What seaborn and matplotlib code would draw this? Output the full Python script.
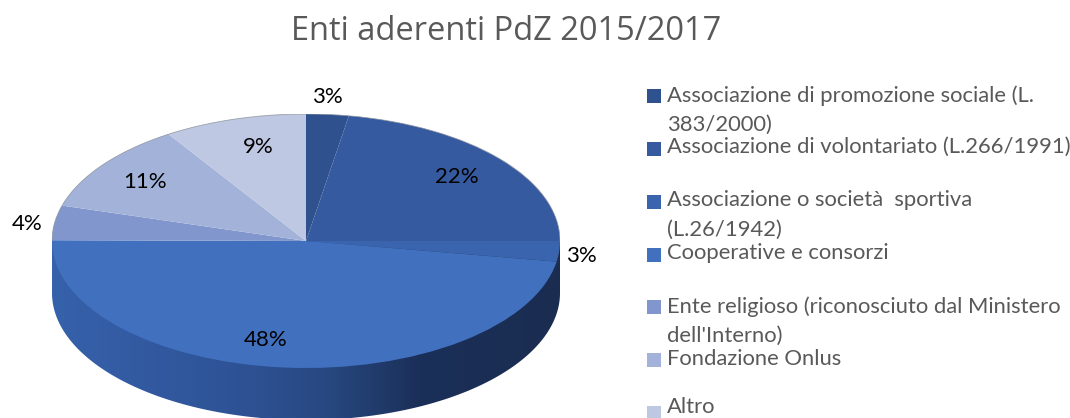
import numpy as np
import matplotlib
matplotlib.use("Agg")
import matplotlib.pyplot as plt
from matplotlib.colors import LinearSegmentedColormap
from matplotlib.patches import PathPatch, Rectangle
from matplotlib.path import Path
import seaborn as sns

sns.set_theme(style="white")

title = "Enti aderenti PdZ 2015/2017"
categories = [
    "Associazione di promozione sociale (L.\n383/2000)",
    "Associazione di volontariato (L.266/1991)",
    "Associazione o società  sportiva\n(L.26/1942)",
    "Cooperative e consorzi",
    "Ente religioso (riconosciuto dal Ministero\ndell'Interno)",
    "Fondazione Onlus",
    "Altro",
]
values = [2.7, 22.3, 2.6, 47.5, 4.4, 11.4, 9.1]
colors = sns.color_palette(["#2f528f", "#355a9f", "#3a64ae", "#4170bf", "#8196cd", "#a3b2d8", "#bfc8e2"])
side_colors = ["#3662ab", "#3259a0", "#2d5192", "#27477f", "#1b3059", "#1a2c50"]
side_stops = [0.0, 0.2, 0.4, 0.55, 0.72, 1.0]

W, H = 1070, 418
fig = plt.figure(figsize=(W / 100, H / 100), dpi=100, facecolor="white")

# pie box in pixels
left, right, top, cy = 52, 560, 114, 241
rx, ry = (right - left) / 2, cy - top
depth = 52 / ry
ymin = -(H - cy) / ry
ax = fig.add_axes([left / W, 0, (right - left) / W, (H - top) / H])

ax.pie(values, colors=colors, startangle=90, counterclock=False, radius=1,
       wedgeprops=dict(linewidth=0, zorder=3))
ax.set_aspect("auto")
ax.axis("off")

# extruded side, shaded across the width
t = np.linspace(np.pi, 2 * np.pi, 200)
verts = np.column_stack([np.cos(t), np.sin(t) - depth])
verts = np.vstack([verts, [1, 0], [-1, 0], [-1, 0]])
codes = [Path.MOVETO] + [Path.LINETO] * (len(verts) - 2) + [Path.CLOSEPOLY]
clip = PathPatch(Path(verts, codes), transform=ax.transData, fc="none", ec="none")
ax.add_patch(clip)
cmap = LinearSegmentedColormap.from_list("side", list(zip(side_stops, side_colors)))
im = ax.imshow(np.linspace(0, 1, 512)[None, :], extent=(-1, 1, ymin - 1, 0), cmap=cmap,
               aspect="auto", zorder=1)
im.set_clip_path(clip)
ax.set_xlim(-1, 1)
ax.set_ylim(ymin, 1)

# rim line on the back of the top face
tb = np.linspace(0, np.pi, 200)
ax.plot(np.cos(tb), np.sin(tb), color="#8a8f9c", lw=0.6, zorder=4, alpha=0.8)


def fx(px):
    return px / W


def fy(py):
    return 1 - py / H


fig.text(fx(506), fy(31), title, family="Open Sans", fontsize=23.5, color="#595959",
         ha="center", va="center")

label_px = [(327, 97), (457, 177), (581, 256), (266, 340), (27, 224), (145, 182), (258, 147)]
for v, (px, py) in zip(values, label_px):
    fig.text(fx(px), fy(py), f"{v:.0f}%", family="Lato", fontsize=16, color="black",
             ha="center", va="center", zorder=10)

# legend
leg_y = [96, 149, 202, 255, 307, 360, 413]
text_y = [85, 137, 190, 243, 296, 349, 397]
for name, c, py, ty in zip(categories, colors, leg_y, text_y):
    fig.add_artist(Rectangle((fx(647), fy(py + 7)), 14 / W, 14 / H, transform=fig.transFigure,
                             fc=c, ec="none"))
    fig.text(fx(667), fy(ty), name, family="Lato", fontsize=15.8, color="#595959",
             ha="left", va="top", linespacing=1.6)

fig.savefig("out.png", dpi=100)
